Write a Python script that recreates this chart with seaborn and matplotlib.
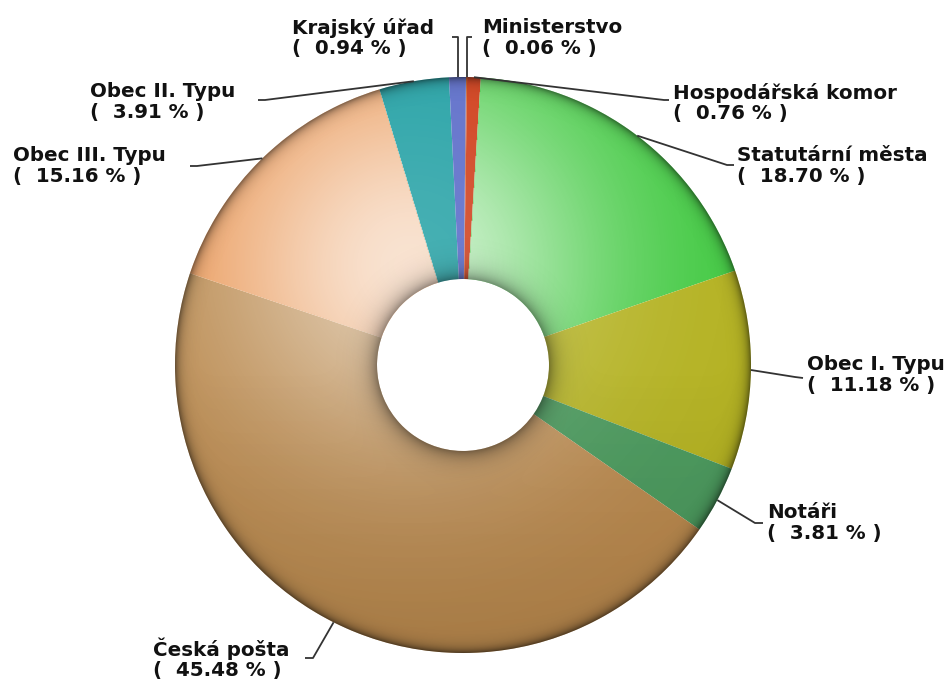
import numpy as np
import matplotlib
matplotlib.use("Agg")
import matplotlib.pyplot as plt
import seaborn as sns
from matplotlib.patches import Wedge

# ---------------- data ----------------
categories = ["Ministerstvo", "Hospodářská komor", "Statutární města", "Obec I. Typu",
              "Notáři", "Česká pošta", "Obec III. Typu", "Obec II. Typu", "Krajský úřad"]
shares = [0.06, 0.76, 18.70, 11.18, 3.81, 45.48, 15.16, 3.91, 0.94]
slice_colors = ["#c8642c", "#d0401c", "#3ec83e", "#b4b222", "#4c9a5e",
                "#b9884c", "#e8904a", "#26a2a6", "#6474cc"]
# strength of the glossy highlight on each slice (styling)
slice_gloss = [0.2, 0.2, 1.0, 0.45, 0.35, 0.75, 1.0, 0.2, 0.1]

# ---------------- layout ----------------
W, H = 952, 684
sns.set_theme(style="white")
plt.rcParams['font.family'] = ['DejaVu Sans']

fig = plt.figure(figsize=(W / 100, H / 100), dpi=100)
ax = fig.add_axes([0, 0, 1, 1])

def P(x, y):
    """pixel position (from top-left) -> data coords"""
    return (x, H - y)

CX, CY = 463, 365
R_OUT, R_IN = 288, 86
START_OFF = 0.6  # degrees clockwise

palette = sns.color_palette(slice_colors)
wedges, _ = ax.pie(shares, radius=R_OUT, center=P(CX, CY), startangle=90 - START_OFF,
                   counterclock=False, colors=palette,
                   wedgeprops=dict(width=R_OUT - R_IN, linewidth=0))

# ---- shading overlay (lighting effect) ----
xs = np.arange(CX - R_OUT - 2, CX + R_OUT + 3)
ys = np.arange(CY - R_OUT - 2, CY + R_OUT + 3)
XX, YY = np.meshgrid(xs, ys)
rr = np.hypot(XX - CX, YY - CY)
theta = (np.degrees(np.arctan2(XX - CX, -(YY - CY))) - START_OFF) % 360
frac = theta / 360 * 100
edges = np.cumsum(shares)
idx = np.clip(np.searchsorted(edges, frac), 0, len(shares) - 1)
gloss = np.array(slice_gloss)[idx]

dh = np.hypot(XX - 410, YY - 265)
light = 0.75 * gloss * np.exp(-dh ** 2 / (2 * 140.0 ** 2))
dark_out = 0.45 * np.exp(-np.clip(R_OUT - rr, 0, None) / 5.0)
dark_in = 0.40 * np.exp(-np.clip(rr - R_IN, 0, None) / 9.0)
dark_bot = 0.10 * np.clip((YY - CY) / R_OUT, 0, 1)
dark = np.clip(dark_out + dark_in + dark_bot, 0, 0.7)

clip_ring = Wedge(P(CX, CY), R_OUT, 0, 360, width=R_OUT - R_IN, transform=ax.transData)
ext = (xs[0], xs[-1], H - ys[-1], H - ys[0])
white = np.zeros(XX.shape + (4,))
white[..., :3] = 1.0
white[..., 3] = light
im1 = ax.imshow(white, extent=ext, origin="upper", interpolation="bilinear", zorder=3)
im1.set_clip_path(clip_ring)
black = np.zeros(XX.shape + (4,))
black[..., 3] = dark
im2 = ax.imshow(black, extent=ext, origin="upper", interpolation="bilinear", zorder=4)
im2.set_clip_path(clip_ring)

# ---------------- labels ----------------
# (text left x, text block centre y, anchor point, elbow point, vertical leader?)
label_layout = {
    "Ministerstvo":      (482, 38, (472, 37), None, True),
    "Hospodářská komor": (673, 103, (669, 100), (664, 100), False),
    "Statutární města":  (737, 166, (734, 165), (727, 165), False),
    "Obec I. Typu":      (807, 375, (803, 378), (795, 377), False),
    "Notáři":            (767, 523, (763, 523), (755, 523), False),
    "Česká pošta":       (153, 659, (305, 658), (313, 658), False),
    "Obec III. Typu":    (13, 166, (190, 166), (197, 166), False),
    "Obec II. Typu":     (90, 102, (258, 100), (265, 100), False),
    "Krajský úřad":      (292, 38, (452, 37), None, True),
}

cum = np.cumsum([0] + shares[:-1])
for cat, val, c0 in zip(categories, shares, cum):
    tx, ty, anchor, elbow, vert = label_layout[cat]
    mid = np.deg2rad((c0 + val / 2) / 100 * 360 + START_OFF)
    rx = CX + R_OUT * np.sin(mid)
    ry = CY - R_OUT * np.cos(mid)
    if vert:
        pts = [anchor, (rx, anchor[1]), (rx, ry)]
    else:
        pts = [anchor, elbow, (rx, ry)]
    px = [p[0] for p in pts]
    py = [H - p[1] for p in pts]
    ax.plot(px, py, color="#333333", lw=1.3, zorder=5, solid_capstyle="butt")
    ax.text(*P(tx, ty), f"{cat}\n(  {val:.2f} % )", ha="left", va="center",
            fontsize=14.3, fontweight="bold", color="#111111", linespacing=1.08, zorder=6)

ax.set_xlim(0, W)
ax.set_ylim(0, H)
ax.set_aspect("equal")
ax.axis("off")
fig.savefig("out.png", dpi=100, facecolor="white")
